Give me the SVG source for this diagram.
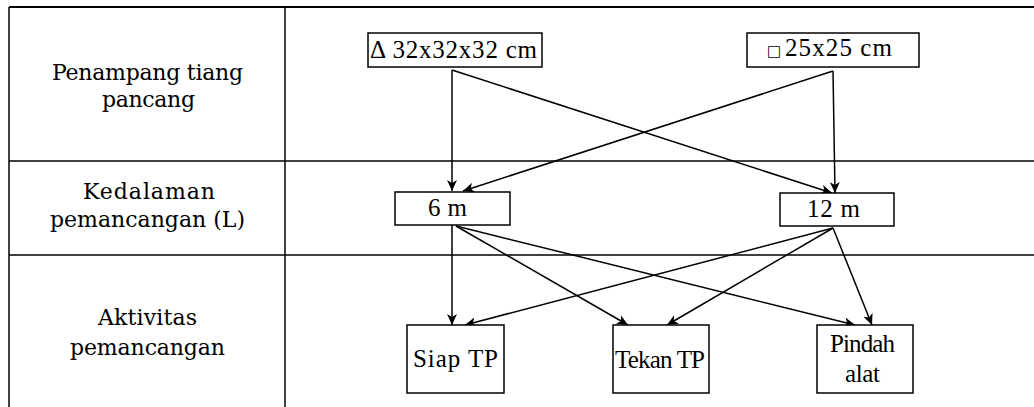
<svg xmlns="http://www.w3.org/2000/svg" width="1034" height="407" viewBox="0 0 1034 407">
  <defs>
    <marker id="arrow" markerUnits="userSpaceOnUse" markerWidth="12" markerHeight="10" refX="11" refY="5" orient="auto">
      <path d="M0,0 L11,5 L0,10 L3,5 Z" fill="#000"/>
    </marker>
    <style>
      .grid { stroke: #000; stroke-width: 1.5; fill: none; }
      .box { fill: #fff; stroke: #000; stroke-width: 1.5; }
      .edge { stroke: #000; stroke-width: 1.5; fill: none; marker-end: url(#arrow); }
      .label { font-family: "DejaVu Serif", "Liberation Serif", serif; font-size: 22px; fill: #000; }
      .node-text { font-family: "Liberation Serif", "DejaVu Serif", serif; font-size: 25px; fill: #000; }
    </style>
  </defs>

  <rect width="1034" height="407" fill="#fff"/>

  <!-- table frame -->
  <g id="table" class="grid">
    <line x1="9" y1="7" x2="1034" y2="7" stroke-width="2"/>
    <line x1="9" y1="7" x2="9" y2="407"/>
    <line x1="285" y1="7" x2="285" y2="407"/>
    <line x1="9" y1="161" x2="1034" y2="161"/>
    <line x1="9" y1="255" x2="1034" y2="255"/>
  </g>

  <!-- row headings -->
  <g id="row-penampang">
    <text class="label" x="52" y="80" textLength="191">Penampang tiang</text>
    <text class="label" x="102" y="107" textLength="93">pancang</text>
  </g>
  <g id="row-kedalaman">
    <text class="label" x="83" y="199" textLength="132">Kedalaman</text>
    <text class="label" x="50" y="227" textLength="195">pemancangan (L)</text>
  </g>
  <g id="row-aktivitas">
    <text class="label" x="98" y="325" textLength="99">Aktivitas</text>
    <text class="label" x="70" y="355" textLength="155">pemancangan</text>
  </g>

  <!-- connectors -->
  <g id="connectors">
    <line class="edge" x1="452" y1="70" x2="452" y2="191"/>
    <line class="edge" x1="452" y1="70" x2="832" y2="193"/>
    <line class="edge" x1="833" y1="71" x2="835" y2="193"/>
    <line class="edge" x1="833" y1="71" x2="463" y2="191"/>
    <line class="edge" x1="452" y1="225" x2="452" y2="325"/>
    <line class="edge" x1="456" y1="226" x2="628" y2="325"/>
    <line class="edge" x1="456" y1="226" x2="855" y2="325"/>
    <line class="edge" x1="833" y1="228" x2="465" y2="325"/>
    <line class="edge" x1="833" y1="228" x2="667" y2="325"/>
    <line class="edge" x1="833" y1="228" x2="872" y2="325"/>
  </g>

  <!-- section nodes -->
  <g id="node-segitiga">
    <rect class="box" x="368" y="33" width="174" height="34"/>
    <text class="node-text" x="370" y="58" textLength="167">Δ 32x32x32 cm</text>
  </g>
  <g id="node-persegi">
    <rect class="box" x="747" y="33" width="172" height="34"/>
    <text class="node-text" x="767" y="56"><tspan font-family="DejaVu Sans, sans-serif" font-size="15">□ </tspan><tspan x="785" textLength="107">25x25 cm</tspan></text>
  </g>

  <!-- depth nodes -->
  <g id="node-6m">
    <rect class="box" x="395" y="192" width="115" height="33"/>
    <text class="node-text" x="428" y="216" textLength="39">6 m</text>
  </g>
  <g id="node-12m">
    <rect class="box" x="780" y="193" width="114" height="33"/>
    <text class="node-text" x="807" y="217" textLength="53">12 m</text>
  </g>

  <!-- activity nodes -->
  <g id="node-siap">
    <rect class="box" x="407" y="325" width="97" height="68"/>
    <text class="node-text" x="413" y="367" textLength="85">Siap TP</text>
  </g>
  <g id="node-tekan">
    <rect class="box" x="613" y="325" width="96" height="68"/>
    <text class="node-text" x="615" y="368" font-size="23" textLength="90">Tekan TP</text>
  </g>
  <g id="node-pindah">
    <rect class="box" x="817" y="325" width="96" height="68"/>
    <text class="node-text" x="830" y="352" font-size="23" textLength="65">Pindah</text>
    <text class="node-text" x="845" y="382" font-size="23" textLength="35">alat</text>
  </g>
</svg>
